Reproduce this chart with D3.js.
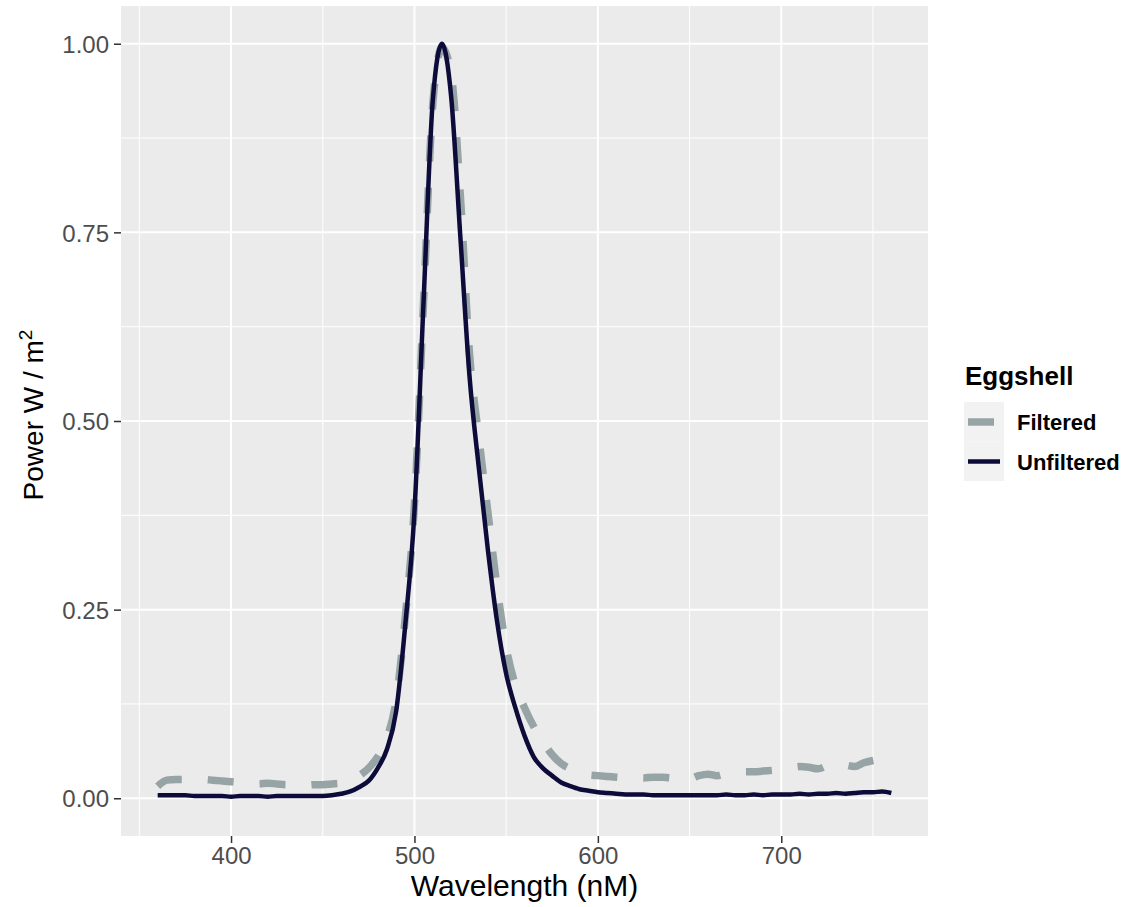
<!DOCTYPE html>
<html>
<head>
<meta charset="utf-8">
<script src="https://cdn.jsdelivr.net/npm/d3@7"></script>
<style>
  body { margin: 0; background: #ffffff; }
  text { font-family: "Liberation Sans", Arial, sans-serif; }
</style>
</head>
<body>
<div id="my_dataviz"></div>
<script>

// wavelength samples (nM)
var wavelength = [360, 365, 370, 375, 380, 385, 390, 395, 400, 405, 410, 415, 420, 425, 430, 435, 440,
  445, 450, 455, 460, 465, 470, 475, 480, 485, 490, 495, 500, 505, 510, 515, 520, 525, 530, 535, 540,
  545, 550, 555, 560, 565, 570, 575, 580, 585, 590, 595, 600, 605, 610, 615, 620, 625, 630, 635, 640,
  645, 650, 655, 660, 665, 670, 675, 680, 685, 690, 695, 700, 705, 710, 715, 720, 725, 730, 735, 740,
  745, 750, 755, 760];

// Eggshell - filtered
var filtered = [0.016, 0.024, 0.025, 0.025, 0.025, 0.025, 0.024, 0.023, 0.022, 0.021, 0.020, 0.019, 0.020,
  0.019, 0.018, 0.018, 0.017, 0.018, 0.018, 0.019, 0.020, 0.023, 0.030, 0.040, 0.055, 0.080, 0.130, 0.240,
  0.390, 0.660, 0.920, 0.995, 0.960, 0.800, 0.590, 0.480, 0.380, 0.280, 0.200, 0.150, 0.120, 0.095, 0.075,
  0.058, 0.046, 0.039, 0.034, 0.031, 0.030, 0.029, 0.028, 0.027, 0.028, 0.027, 0.028, 0.028, 0.027,
  0.028, 0.026, 0.030, 0.032, 0.030, 0.033, 0.034, 0.035, 0.035, 0.036, 0.037, 0.038, 0.040, 0.042,
  0.041, 0.039, 0.043, 0.046, 0.044, 0.042, 0.047, 0.050, 0.052, 0.053];

// Eggshell - unfiltered
var unfiltered = [0.004, 0.004, 0.004, 0.004, 0.003, 0.003, 0.003, 0.003, 0.002, 0.003, 0.003, 0.003, 0.002,
  0.003, 0.003, 0.003, 0.003, 0.003, 0.003, 0.004, 0.006, 0.009, 0.015, 0.023, 0.040, 0.065, 0.115, 0.230,
  0.380, 0.660, 0.925, 1.000, 0.930, 0.745, 0.560, 0.440, 0.330, 0.235, 0.165, 0.120, 0.083, 0.055, 0.040,
  0.030, 0.021, 0.016, 0.012, 0.010, 0.008, 0.007, 0.006, 0.005, 0.005, 0.005, 0.004, 0.004, 0.004,
  0.004, 0.004, 0.004, 0.004, 0.004, 0.005, 0.004, 0.004, 0.005, 0.004, 0.005, 0.005, 0.005, 0.006,
  0.005, 0.006, 0.006, 0.007, 0.006, 0.007, 0.008, 0.008, 0.009, 0.007];

var seriesNames = ["Filtered", "Unfiltered"];
var seriesColors = ["#97a4a5", "#0c0b3a"];
var xTicks = [400, 500, 600, 700];
var xMinor = [350, 450, 550, 650, 750];
var yTicks = [0, 0.25, 0.5, 0.75, 1];
var yMinor = [0.125, 0.375, 0.625, 0.875];

// set the dimensions of the page and the panel
var W = 1128, H = 907;
var panel = {left: 121, top: 6, right: 928, bottom: 836};

var svg = d3.select("#my_dataviz")
  .append("svg")
    .attr("width", W)
    .attr("height", H);

var x = d3.scaleLinear().domain([340, 780]).range([panel.left, panel.right]);
var y = d3.scaleLinear().domain([-0.05, 1.05]).range([panel.bottom, panel.top]);

// panel background
svg.append("rect")
  .attr("x", panel.left).attr("y", panel.top)
  .attr("width", panel.right - panel.left)
  .attr("height", panel.bottom - panel.top)
  .attr("fill", "#ebebeb");

// grid lines (minor then major)
var grid = svg.append("g");
grid.selectAll(".xminor").data(xMinor).enter().append("line")
  .attr("x1", function(d) { return x(d); }).attr("x2", function(d) { return x(d); })
  .attr("y1", panel.top).attr("y2", panel.bottom)
  .attr("stroke", "#ffffff").attr("stroke-width", 1);
grid.selectAll(".yminor").data(yMinor).enter().append("line")
  .attr("y1", function(d) { return y(d); }).attr("y2", function(d) { return y(d); })
  .attr("x1", panel.left).attr("x2", panel.right)
  .attr("stroke", "#ffffff").attr("stroke-width", 1);
grid.selectAll(".xmajor").data(xTicks).enter().append("line")
  .attr("x1", function(d) { return x(d); }).attr("x2", function(d) { return x(d); })
  .attr("y1", panel.top).attr("y2", panel.bottom)
  .attr("stroke", "#ffffff").attr("stroke-width", 2);
grid.selectAll(".ymajor").data(yTicks).enter().append("line")
  .attr("y1", function(d) { return y(d); }).attr("y2", function(d) { return y(d); })
  .attr("x1", panel.left).attr("x2", panel.right)
  .attr("stroke", "#ffffff").attr("stroke-width", 2);

// the two spectra
var rows = wavelength.map(function(w, i) { return {w: w, f: filtered[i], u: unfiltered[i]}; });
var line = function(key) {
  return d3.line()
    .curve(d3.curveMonotoneX)
    .x(function(d) { return x(d.w); })
    .y(function(d) { return y(d[key]); });
};

svg.append("path")
  .datum(rows)
  .attr("d", line("f"))
  .attr("fill", "none")
  .attr("stroke", seriesColors[0])
  .attr("stroke-width", 7.5)
  .attr("stroke-dasharray", "26,26");

svg.append("path")
  .datum(rows)
  .attr("d", line("u"))
  .attr("fill", "none")
  .attr("stroke", seriesColors[1])
  .attr("stroke-width", 4.5)
  .attr("stroke-linejoin", "round");

// axes
var xAxis = svg.append("g")
  .attr("transform", "translate(0," + panel.bottom + ")")
  .call(d3.axisBottom(x).tickValues(xTicks).tickSize(7).tickPadding(4).tickFormat(d3.format("d")));
var yAxis = svg.append("g")
  .attr("transform", "translate(" + panel.left + ",0)")
  .call(d3.axisLeft(y).tickValues(yTicks).tickSize(7).tickPadding(5).tickFormat(d3.format(".2f")));

[xAxis, yAxis].forEach(function(a) {
  a.select(".domain").remove();
  a.selectAll(".tick line").attr("stroke", "#333333").attr("stroke-width", 1.5);
  a.selectAll(".tick text")
    .attr("fill", "#4d4d4d")
    .style("font-size", "24px")
    .style("font-family", "'Liberation Sans', Arial, sans-serif");
});
xAxis.selectAll(".tick text").attr("dy", "0.71em");
yAxis.selectAll(".tick text").attr("dy", "0.36em");

// axis titles
svg.append("text")
  .attr("x", (panel.left + panel.right) / 2)
  .attr("y", 896)
  .attr("text-anchor", "middle")
  .style("font-size", "30px")
  .attr("fill", "#000000")
  .text("Wavelength (nM)");

var yt = svg.append("text")
  .attr("transform", "translate(43,415) rotate(-90)")
  .attr("text-anchor", "middle")
  .style("font-size", "28px")
  .attr("fill", "#000000");
yt.append("tspan").text("Power W / m");
yt.append("tspan").attr("dy", "-0.6em").style("font-size", "19px").text("2");

// legend
var legend = svg.append("g");
legend.append("text")
  .attr("x", 965).attr("y", 385)
  .style("font-size", "26px").style("font-weight", "bold")
  .text("Eggshell");

var keys = legend.selectAll(".key")
  .data(seriesNames)
  .enter()
  .append("g")
  .attr("transform", function(d, i) { return "translate(964," + (402 + i * 39.5) + ")"; });

keys.append("rect")
  .attr("width", 40).attr("height", 39.5)
  .attr("fill", "#f2f2f2");
keys.append("line")
  .attr("x1", 4).attr("x2", 36)
  .attr("y1", 20).attr("y2", 20)
  .attr("stroke", function(d, i) { return seriesColors[i]; })
  .attr("stroke-width", function(d, i) { return i === 0 ? 7.5 : 4.5; })
  .attr("stroke-dasharray", function(d, i) { return i === 0 ? "26,26" : null; });
keys.append("text")
  .attr("x", 53).attr("y", 28)
  .style("font-size", "22px").style("font-weight", "bold")
  .text(function(d) { return d; });

</script>
</body>
</html>
